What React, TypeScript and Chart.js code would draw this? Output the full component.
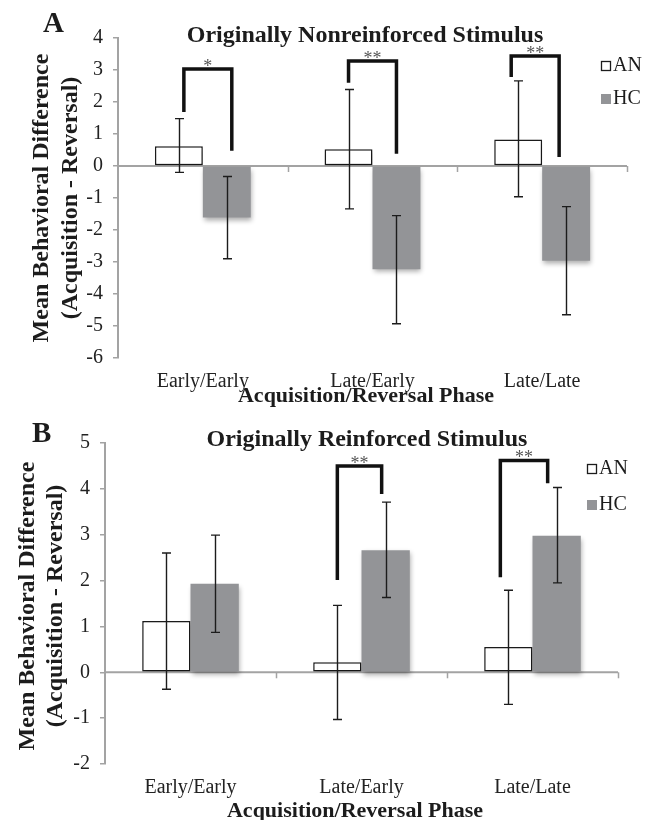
import React, { useEffect, useRef } from 'react';
import { Chart, registerables } from 'chart.js';

Chart.register(...registerables);

// ---------- data ----------
const categories = ['Early/Early', 'Late/Early', 'Late/Late'];
const seriesNames = ['AN', 'HC'];

// Panel A: Originally Nonreinforced Stimulus
const yRangeA = [-6, 4];
const anMeanA = [0.62, 0.52, 0.83];
const anLowA = [-0.2, -1.34, -0.96];
const anHighA = [1.48, 2.39, 2.66];
const hcMeanA = [-1.61, -3.23, -2.96];
const hcLowA = [-2.9, -4.93, -4.65];
const hcHighA = [-0.33, -1.55, -1.27];
const sigCatA = [0, 1, 2];
const sigTopA = [3.03, 3.28, 3.44];
const sigLeftEndA = [1.69, 2.6, 2.78];
const sigRightEndA = [0.48, 0.38, 0.28];
const sigLabelA = ['*', '**', '**'];

// Panel B: Originally Reinforced Stimulus
const yRangeB = [-2, 5];
const anMeanB = [1.12, 0.22, 0.55];
const anLowB = [-0.37, -1.03, -0.7];
const anHighB = [2.6, 1.46, 1.79];
const hcMeanB = [1.93, 2.66, 2.98];
const hcLowB = [0.87, 1.63, 1.95];
const hcHighB = [2.99, 3.71, 4.03];
const sigCatB = [1, 2];
const sigTopB = [4.5, 4.62];
const sigLeftEndB = [2.01, 2.07];
const sigRightEndB = [3.89, 4.12];
const sigLabelB = ['**', '**'];

// ---------- styles ----------
const SERIF = '"Liberation Serif", "Times New Roman", serif';
const AXIS = '#a3a3a3';
const INK = '#1c1c1c';
const HC_GRAY = '#939497';

const decorPlugin = {
  id: 'decor',
  beforeDatasetsDraw(chart: any, _a: any, o: any) {
    const ctx = chart.ctx;
    const { left, right } = chart.chartArea;
    const ys = chart.scales.y;
    const y0 = ys.getPixelForValue(0);
    // zero line
    ctx.save();
    ctx.strokeStyle = AXIS;
    ctx.lineWidth = 2;
    ctx.beginPath();
    ctx.moveTo(left, y0);
    ctx.lineTo(right, y0);
    ctx.stroke();
    const n = chart.data.labels.length;
    const w = (right - left) / n;
    ctx.lineWidth = 1.5;
    for (let i = 1; i <= n; i++) {
      const px = Math.round(left + i * w) + 0.5;
      ctx.beginPath();
      ctx.moveTo(px, y0);
      ctx.lineTo(px, y0 + 6);
      ctx.stroke();
    }
    ctx.restore();
    // shadow for bars
    ctx.save();
    ctx.shadowColor = 'rgba(0,0,0,0.33)';
    ctx.shadowBlur = 5;
    ctx.shadowOffsetX = 1;
    ctx.shadowOffsetY = 3;
  },
  afterDatasetsDraw(chart: any, _a: any, o: any) {
    const ctx = chart.ctx;
    ctx.restore();
    const ys = chart.scales.y;
    // error bars
    ctx.save();
    ctx.strokeStyle = INK;
    ctx.lineWidth = 1.4;
    o.errors.forEach((err: any, di: number) => {
      const meta = chart.getDatasetMeta(di);
      meta.data.forEach((bar: any, j: number) => {
        const cx = Math.round(bar.x) + 0.5;
        const yl = ys.getPixelForValue(err.low[j]);
        const yh = ys.getPixelForValue(err.high[j]);
        ctx.beginPath();
        ctx.moveTo(cx, yl);
        ctx.lineTo(cx, yh);
        ctx.moveTo(cx - 4.5, yl);
        ctx.lineTo(cx + 4.5, yl);
        ctx.moveTo(cx - 4.5, yh);
        ctx.lineTo(cx + 4.5, yh);
        ctx.stroke();
      });
    });
    ctx.restore();
    // significance brackets
    ctx.save();
    const m0 = chart.getDatasetMeta(0);
    const m1 = chart.getDatasetMeta(1);
    o.sig.cat.forEach((c: number, k: number) => {
      const xl = m0.data[c].x + o.sig.shiftL[k];
      const xr = m1.data[c].x + o.sig.shiftR[k];
      const yt = ys.getPixelForValue(o.sig.top[k]);
      const yl = ys.getPixelForValue(o.sig.leftEnd[k]);
      const yr = ys.getPixelForValue(o.sig.rightEnd[k]);
      ctx.strokeStyle = '#111';
      ctx.lineWidth = 3.5;
      ctx.lineJoin = 'miter';
      ctx.beginPath();
      ctx.moveTo(xl, yl);
      ctx.lineTo(xl, yt);
      ctx.lineTo(xr, yt);
      ctx.lineTo(xr, yr);
      ctx.stroke();
      ctx.fillStyle = '#555';
      ctx.font = `18px ${SERIF}`;
      ctx.textAlign = 'center';
      ctx.textBaseline = 'alphabetic';
      ctx.fillText(o.sig.label[k], (xl + xr) / 2, yt + 3);
    });
    ctx.restore();
  },
  afterDraw(chart: any, _a: any, o: any) {
    const ctx = chart.ctx;
    ctx.save();
    ctx.fillStyle = INK;
    ctx.textBaseline = 'alphabetic';
    // panel letter
    ctx.font = `bold 29px ${SERIF}`;
    ctx.textAlign = 'left';
    ctx.fillText(o.letter.text, o.letter.x, o.letter.y);
    // title
    ctx.font = `bold 24px ${SERIF}`;
    ctx.textAlign = 'center';
    ctx.fillText(o.title.text, o.title.x, o.title.y);
    // x axis title
    ctx.font = `bold 22px ${SERIF}`;
    ctx.fillText(o.xTitle.text, o.xTitle.x, o.xTitle.y);
    // y axis title
    ctx.font = `bold 24px ${SERIF}`;
    o.yTitle.lines.forEach((t: string, i: number) => {
      ctx.save();
      ctx.translate(o.yTitle.xs[i], o.yTitle.cy);
      ctx.rotate(-Math.PI / 2);
      ctx.fillText(t, 0, 0);
      ctx.restore();
    });
    // legend
    ctx.font = `20px ${SERIF}`;
    ctx.textAlign = 'left';
    chart.data.datasets.forEach((ds: any, i: number) => {
      const by = o.legend.ys[i];
      if (i === 0) {
        ctx.fillStyle = '#fff';
        ctx.fillRect(o.legend.x, by, 10, 10);
        ctx.strokeStyle = INK;
        ctx.lineWidth = 1.3;
        ctx.strokeRect(o.legend.x + 0.5, by + 0.5, 9, 9);
      } else {
        ctx.fillStyle = ds.backgroundColor;
        ctx.fillRect(o.legend.x, by, 10, 10);
      }
      ctx.fillStyle = INK;
      ctx.fillText(ds.label, o.legend.x + 12, by + 10);
    });
    ctx.restore();
  },
};

function makeConfig(p: any) {
  return {
    type: 'bar',
    data: {
      labels: categories,
      datasets: [
        {
          label: seriesNames[0],
          data: p.an,
          backgroundColor: '#ffffff',
          borderColor: INK,
          borderWidth: 1.5,
          borderSkipped: false,
        },
        {
          label: seriesNames[1],
          data: p.hc,
          backgroundColor: HC_GRAY,
          borderWidth: 0,
        },
      ],
    },
    options: {
      responsive: false,
      animation: false,
      events: [],
      layout: { padding: { left: 0, right: p.padRight, top: p.padTop, bottom: 0 } },
      datasets: { bar: { categoryPercentage: 0.565, barPercentage: 1 } },
      plugins: {
        legend: { display: false },
        title: { display: false },
        tooltip: { enabled: false },
        decor: p.decor,
      },
      scales: {
        x: {
          grid: { display: false, drawTicks: false },
          border: { display: false },
          ticks: {
            font: { family: SERIF, size: 20 },
            color: '#222',
            padding: 12,
            maxRotation: 0,
            autoSkip: false,
          },
          afterFit: (s: any) => {
            s.height = p.xAxisH;
          },
        },
        y: {
          min: p.range[0],
          max: p.range[1],
          ticks: {
            stepSize: 1,
            font: { family: SERIF, size: 20 },
            color: '#222',
            padding: 10,
          },
          grid: { drawOnChartArea: false, tickLength: 5, color: AXIS, lineWidth: 1.5 },
          border: { display: true, color: AXIS, width: 2 },
          afterFit: (s: any) => {
            s.width = p.yAxisW;
          },
        },
      },
    },
    plugins: [decorPlugin],
  };
}

const panelA = {
  an: anMeanA,
  hc: hcMeanA,
  range: yRangeA,
  padTop: 38,
  padRight: 27,
  xAxisH: 52,
  yAxisW: 118,
  decor: {
    errors: [
      { low: anLowA, high: anHighA },
      { low: hcLowA, high: hcHighA },
    ],
    sig: {
      cat: sigCatA,
      top: sigTopA,
      leftEnd: sigLeftEndA,
      rightEnd: sigRightEndA,
      label: sigLabelA,
      shiftL: [5, 0, -7],
      shiftR: [5, 0, -7],
    },
    letter: { text: 'A', x: 43, y: 32 },
    title: { text: 'Originally Nonreinforced Stimulus', x: 365, y: 42 },
    xTitle: { text: 'Acquisition/Reversal Phase', x: 366, y: 402 },
    yTitle: { lines: ['Mean Behavioral Difference', '(Acquisition - Reversal)'], xs: [48, 77], cy: 198 },
    legend: { x: 601, ys: [61, 94] },
  },
};

const panelB = {
  an: anMeanB,
  hc: hcMeanB,
  range: yRangeB,
  padTop: 33,
  padRight: 36,
  xAxisH: 56,
  yAxisW: 105,
  decor: {
    errors: [
      { low: anLowB, high: anHighB },
      { low: hcLowB, high: hcHighB },
    ],
    sig: {
      cat: sigCatB,
      top: sigTopB,
      leftEnd: sigLeftEndB,
      rightEnd: sigRightEndB,
      label: sigLabelB,
      shiftL: [0, -8],
      shiftR: [-4, -9],
    },
    letter: { text: 'B', x: 32, y: 32 },
    title: { text: 'Originally Reinforced Stimulus', x: 367, y: 36 },
    xTitle: { text: 'Acquisition/Reversal Phase', x: 355, y: 407 },
    yTitle: { lines: ['Mean Behavioral Difference', '(Acquisition - Reversal)'], xs: [34, 62], cy: 196 },
    legend: { x: 587, ys: [54, 90] },
  },
};

function Panel({ p }: { p: any }) {
  const ref = useRef<HTMLCanvasElement>(null);
  useEffect(() => {
    if (!ref.current) return;
    const chart = new Chart(ref.current, makeConfig(p) as any);
    return () => chart.destroy();
  }, [p]);
  return (
    <canvas
      ref={ref}
      width={654}
      height={410}
      style={{ display: 'block', width: 654, height: 410 }}
    />
  );
}

export default function App() {
  return (
    <div
      style={{
        position: 'absolute',
        left: 0,
        top: 0,
        width: 654,
        height: 820,
        background: '#fff',
      }}
    >
      <Panel p={panelA} />
      <Panel p={panelB} />
    </div>
  );
}
